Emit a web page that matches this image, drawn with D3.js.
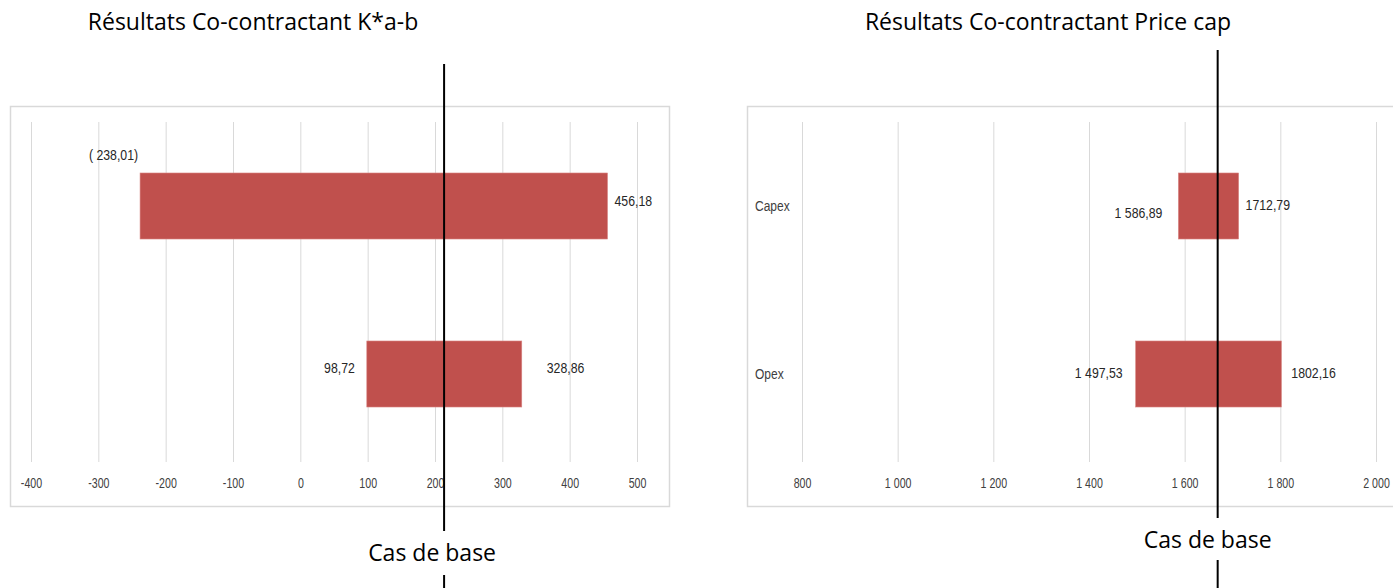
<!DOCTYPE html>
<html><head><meta charset="utf-8">
<script src="https://cdn.jsdelivr.net/npm/d3@7"></script>
<style>
html,body{margin:0;padding:0;background:#fff;}
svg{display:block;}
</style></head>
<body>
<svg id="chart" width="1393" height="588"></svg>
<script>
// ---- data ----
const categories = ["Capex", "Opex"];
const leftTitle = "Résultats Co-contractant K*a-b";
const leftLow = [-238.01, 98.72];
const leftHigh = [456.18, 328.86];
const leftLowLabels = ["( 238,01)", "98,72"];
const leftHighLabels = ["456,18", "328,86"];
const leftTicks = [-400, -300, -200, -100, 0, 100, 200, 300, 400, 500];
const leftBase = 213.5;

const rightTitle = "Résultats Co-contractant Price cap";
const rightLow = [1586.89, 1497.53];
const rightHigh = [1712.79, 1802.16];
const rightLowLabels = ["1 586,89", "1 497,53"];
const rightHighLabels = ["1712,79", "1802,16"];
const rightTicks = [800, 1000, 1200, 1400, 1600, 1800, 2000];
const rightBase = 1669;
const baseLabel = "Cas de base";

const fr = d3.formatLocale({decimal: ",", thousands: "\u00a0", grouping: [3], currency: ["", ""], minus: "-"});
const tickFmt = fr.format(",d");

const svg = d3.select("#chart");
const barColor = "#C0504D";
const FONT = "'Liberation Sans', Arial, sans-serif";
const TFONT = "'Open Sans', sans-serif";

function panel(o) {
  const g = svg.append("g");
  g.append("rect").attr("x", o.frame[0] + 0.5).attr("y", 106.5)
    .attr("width", o.frame[1] - o.frame[0]).attr("height", 400)
    .attr("fill", "#fff").attr("stroke", "#d9d9d9").attr("stroke-width", 1.5);

  const x = d3.scaleLinear().domain([o.ticks[0], o.ticks[o.ticks.length - 1]]).range(o.xr);
  const y = d3.scaleBand().domain(categories).range([122, 458]).paddingInner(0.607).paddingOuter(0.3035);

  const ax = g.append("g").attr("transform", "translate(0,462)")
    .call(d3.axisBottom(x).tickValues(o.ticks).tickSize(-340).tickPadding(16).tickFormat(tickFmt));
  ax.select(".domain").remove();
  ax.selectAll(".tick line").attr("stroke", "#d9d9d9").attr("stroke-width", 1);
  ax.selectAll(".tick text").attr("font-family", FONT).attr("font-size", 14)
    .attr("fill", "#404040").attr("transform", "scale(0.76,1)");

  if (o.showCats) {
    g.selectAll(".cat").data(categories).join("text")
      .attr("transform", d => `translate(${o.frame[0] + 8},${y(d) + y.bandwidth() / 2 + 5}) scale(0.8,1)`)
      .attr("font-family", FONT).attr("font-size", 15).attr("fill", "#404040").text(d => d);
  }

  g.selectAll(".bar").data(categories).join("rect")
    .attr("x", (d, i) => x(o.low[i]))
    .attr("width", (d, i) => x(o.high[i]) - x(o.low[i]))
    .attr("y", d => y(d)).attr("height", y.bandwidth())
    .attr("fill", barColor).attr("stroke", "#d88583").attr("stroke-width", 0.6);

  g.selectAll(".lowlab").data(categories).join("text")
    .attr("transform", (d, i) => `translate(${x(o.low[i]) + o.lowDx[i]},${y(d) + y.bandwidth() / 2 + o.lowDy[i]}) scale(0.82,1)`)
    .attr("text-anchor", "end")
    .attr("font-family", FONT).attr("font-size", 15).attr("fill", "#262626")
    .text((d, i) => o.lowLabels[i]);
  g.selectAll(".highlab").data(categories).join("text")
    .attr("transform", (d, i) => `translate(${x(o.high[i]) + o.highDx[i]},${y(d) + y.bandwidth() / 2 + o.highDy[i]}) scale(0.82,1)`)
    .attr("font-family", FONT).attr("font-size", 15).attr("fill", "#262626")
    .text((d, i) => o.highLabels[i]);

  svg.append("text").attr("x", o.titleX).attr("y", 30)
    .attr("text-anchor", "middle").attr("font-family", TFONT)
    .attr("font-size", 23).attr("fill", "#000").text(o.title);

  const bx = x(o.base);
  svg.append("line").attr("x1", bx).attr("x2", bx).attr("y1", o.lineTop).attr("y2", o.lineBreak[0])
    .attr("stroke", "#000").attr("stroke-width", 2);
  svg.append("line").attr("x1", bx).attr("x2", bx).attr("y1", o.lineBreak[1]).attr("y2", 588)
    .attr("stroke", "#000").attr("stroke-width", 2);
  svg.append("text").attr("x", bx + o.baseDx).attr("y", o.baseY)
    .attr("text-anchor", "middle").attr("font-family", TFONT)
    .attr("font-size", 23).attr("fill", "#000").text(baseLabel);
}

panel({
  frame: [10, 669], xr: [31, 637], ticks: leftTicks, low: leftLow, high: leftHigh,
  lowLabels: leftLowLabels, highLabels: leftHighLabels,
  lowDx: [-2, -12], lowDy: [-46, -1],
  highDx: [7, 25], highDy: [0, -1],
  showCats: false, title: leftTitle, titleX: 253, base: leftBase,
  lineTop: 64, lineBreak: [531, 575], baseY: 561, baseDx: -12
});
panel({
  frame: [747, 1400], xr: [802, 1376], ticks: rightTicks, low: rightLow, high: rightHigh,
  lowLabels: rightLowLabels, highLabels: rightHighLabels,
  lowDx: [-16, -13], lowDy: [12, 4],
  highDx: [7, 10], highDy: [4, 4],
  showCats: true, title: rightTitle, titleX: 1048, base: rightBase,
  lineTop: 50, lineBreak: [518, 560], baseY: 548, baseDx: -10
});
</script>
</body></html>
